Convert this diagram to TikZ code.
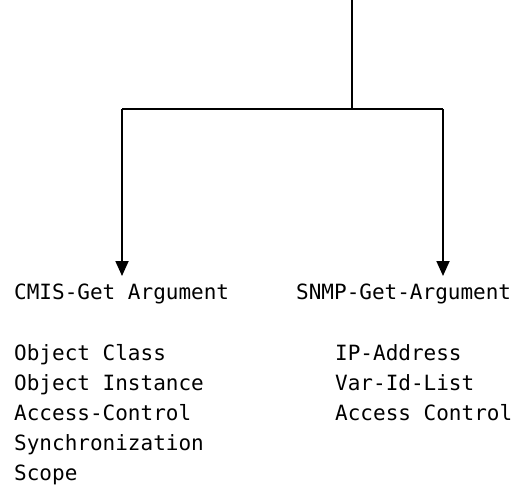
\documentclass[tikz,border=0pt]{standalone}
\usepackage{fontspec}
\setmonofont{DejaVu Sans Mono}
\usetikzlibrary{arrows.meta}
\tikzset{
  wire/.style={line width=1.8pt},
  feed/.style={wire, -{Triangle[length=15pt,width=13pt]}},
  lbl/.style={anchor=base west, inner sep=0pt, font=\ttfamily\fontsize{21}{30}\selectfont}
}
\begin{document}
\begin{tikzpicture}[x=1pt,y=-1pt]
  \useasboundingbox (0,0) rectangle (516,487);
  % branching connector
  \coordinate (top) at (352,0);
  \coordinate (join) at (352,109);
  \coordinate (lc) at (122,109);
  \coordinate (rc) at (443,109);
  \coordinate (ltip) at (122,276);
  \coordinate (rtip) at (443,276);
  \draw[wire] (top) -- (join);
  \draw[wire] (lc) -- (rc);
  \draw[feed] (lc) -- (ltip);
  \draw[feed] (rc) -- (rtip);
  % headings
  \node[lbl] (cmis) at (14,299) {CMIS-Get Argument};
  \node[lbl] (snmp) at (296,299) {SNMP-Get-Argument};
  % CMIS argument fields
  \node[lbl] (c1) at (14,360) {Object Class};
  \node[lbl] (c2) at (14,390) {Object Instance};
  \node[lbl] (c3) at (14,420) {Access-Control};
  \node[lbl] (c4) at (14,450) {Synchronization};
  \node[lbl] (c5) at (14,480) {Scope};
  % SNMP argument fields
  \node[lbl] (s1) at (335,360) {IP-Address};
  \node[lbl] (s2) at (335,390) {Var-Id-List};
  \node[lbl] (s3) at (335,420) {Access Control};
\end{tikzpicture}
\end{document}
